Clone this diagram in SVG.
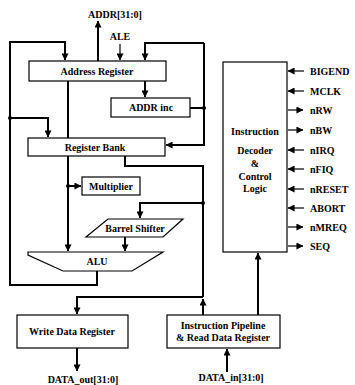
<svg xmlns="http://www.w3.org/2000/svg" width="355" height="385" viewBox="0 0 355 385">
<style>
  .box { fill: #ffffff; stroke: #000; stroke-width: 1.2; }
  .t { font-family: "Liberation Serif", "Times New Roman", serif; font-weight: bold; font-size: 10px; fill: #000; }
  .c { text-anchor: middle; }
  .w { fill: none; stroke: #000; stroke-width: 2; }
  .s { fill: none; stroke: #000; stroke-width: 1.2; }
  .a { marker-end: url(#ah); }
</style>
<defs>
  <marker id="ah" viewBox="0 0 8 8" refX="7.5" refY="4" markerWidth="7" markerHeight="7" markerUnits="userSpaceOnUse" orient="auto">
    <path d="M0,0 L8,4 L0,8 z" fill="#000"/>
  </marker>
</defs>
<rect width="355" height="385" fill="#fff"/>

<g id="connectors">
  <path class="w a" d="M98,61 V21"/>
  <path class="s a" d="M120,44 V60"/>
  <path class="w a" d="M97,271 V285 H10 V42 H65 V60"/>
  <path class="w a" d="M10,118 H48 V137"/>
  <path class="w" d="M190,108 H204"/>
  <path class="w a" d="M204,43 V145 H166"/>
  <path class="w a" d="M204,43 H145 V60"/>
  <path class="w a" d="M145,81 V97"/>
  <path class="w" d="M68,81 V138"/>
  <path class="w a" d="M68,156 V251"/>
  <path class="w a" d="M68,186 H81"/>
  <path class="w" d="M125,156 V166 H203 V297"/>
  <path class="w a" d="M203,203 H140 V218"/>
  <path class="w a" d="M125,237 V251"/>
  <path class="w a" d="M203,297 H77 V314"/>
  <path class="w a" d="M203,315 V299"/>
  <path class="w a" d="M77,348 V371"/>
  <path class="w a" d="M227,372 V349"/>
  <path class="w a" d="M258,315 V253"/>
  <circle cx="68" cy="186" r="2"/>
  <circle cx="204" cy="108" r="2"/>
  <circle cx="10" cy="118" r="2"/>
  <circle cx="203" cy="203" r="2"/>
  <path class="s a" d="M304,71 H288"/>
  <path class="s a" d="M304,91 H288"/>
  <path class="s a" d="M288,110 H303"/>
  <path class="s a" d="M288,130 H303"/>
  <path class="s a" d="M304,150 H288"/>
  <path class="s a" d="M304,169 H288"/>
  <path class="s a" d="M304,189 H288"/>
  <path class="s a" d="M304,208 H288"/>
  <path class="s a" d="M288,227 H303"/>
  <path class="s a" d="M288,246 H303"/>
</g>

<g id="labels">
  <text class="t" x="88" y="18">ADDR[31:0]</text>
  <text class="t c" x="120" y="40">ALE</text>
  <text class="t c" x="83" y="383">DATA_out[31:0]</text>
  <text class="t c" x="231" y="381">DATA_in[31:0]</text>
  <text class="t" x="310" y="74.5">BIGEND</text>
  <text class="t" x="310" y="94.5">MCLK</text>
  <text class="t" x="310" y="113.5">nRW</text>
  <text class="t" x="310" y="133.5">nBW</text>
  <text class="t" x="310" y="153.5">nIRQ</text>
  <text class="t" x="310" y="172.5">nFIQ</text>
  <text class="t" x="310" y="192.5">nRESET</text>
  <text class="t" x="310" y="211.5">ABORT</text>
  <text class="t" x="310" y="230.5">nMREQ</text>
  <text class="t" x="310" y="249.5">SEQ</text>
</g>

<g id="address-register">
  <rect class="box" x="29" y="61" width="137" height="20"/>
  <text class="t c" x="97" y="74.5">Address Register</text>
</g>
<g id="addr-inc">
  <rect class="box" x="111" y="98" width="79" height="19"/>
  <text class="t c" x="151" y="111">ADDR inc</text>
</g>
<g id="register-bank">
  <rect class="box" x="28" y="138" width="137" height="18"/>
  <text class="t c" x="95" y="150.5">Register Bank</text>
</g>
<g id="multiplier">
  <rect class="box" x="82" y="177" width="58" height="18"/>
  <text class="t c" x="111" y="189.5">Multiplier</text>
</g>
<g id="barrel-shifter">
  <polygon class="box" points="108,219 183,219 163,237 86,237"/>
  <text class="t c" x="135" y="231.5">Barrel Shifter</text>
</g>
<g id="alu">
  <polygon class="box" points="28,252 163,252 132,271 63,271 28,255"/>
  <text class="t c" x="97" y="265">ALU</text>
</g>
<g id="write-data-register">
  <rect class="box" x="17" y="315" width="111" height="33"/>
  <text class="t c" x="72" y="335">Write Data Register</text>
</g>
<g id="instruction-pipeline">
  <rect class="box" x="167" y="315" width="113" height="33"/>
  <text class="t c" x="223" y="329">Instruction Pipeline</text>
  <text class="t c" x="223" y="341">&amp; Read Data Register</text>
</g>
<g id="instruction-decoder">
  <rect class="box" x="223" y="62" width="64" height="190"/>
  <text class="t c" x="255" y="134.5">Instruction</text>
  <text class="t c" x="255" y="154">Decoder</text>
  <text class="t c" x="255" y="167">&amp;</text>
  <text class="t c" x="255" y="180">Control</text>
  <text class="t c" x="255" y="191.5">Logic</text>
</g>
</svg>
